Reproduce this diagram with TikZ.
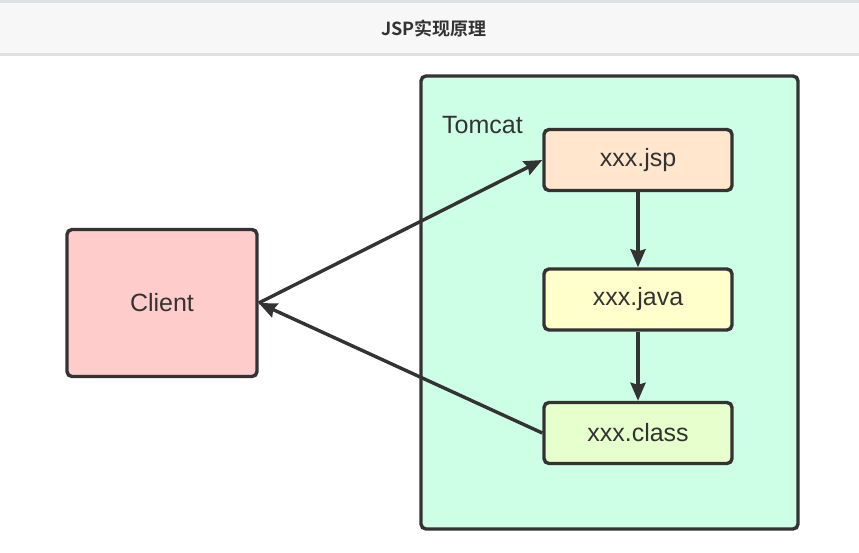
\documentclass[tikz,border=0pt]{standalone}
\usepackage{fontspec}
\setmainfont{Liberation Sans}
\newfontfamily\cjkbold[BoldFont={Noto Sans CJK SC Bold}]{Noto Sans CJK SC}
\usetikzlibrary{arrows.meta}
\definecolor{ink}{HTML}{333333}
\definecolor{bandgray}{HTML}{F7F7F7}
\definecolor{bandline}{HTML}{DFE2E5}
\definecolor{tomcatfill}{HTML}{CCFFE6}
\definecolor{jspfill}{HTML}{FFE6CC}
\definecolor{javafill}{HTML}{FFFFCC}
\definecolor{classfill}{HTML}{E6FFCC}
\definecolor{clientfill}{HTML}{FFCCCC}
\tikzset{
  box/.style={draw=ink, line width=3.4pt, rounded corners=5pt, inner sep=0pt},
  lbl/.style={text=ink, font=\fontsize{25}{30}\selectfont, inner sep=0pt},
  conn/.style={draw=ink, line width=3.4pt, -{Stealth[length=18pt,width=15pt,inset=2pt]}}
}
\begin{document}
\begin{tikzpicture}[x=1pt,y=-1pt]
\useasboundingbox (0,0) rectangle (859,552);
\fill[white] (0,0) rectangle (859,552);
% header band
\fill[bandline] (0,0) rectangle (859,56);
\fill[bandgray] (0,3) rectangle (859,53);
\node[text=ink, font=\cjkbold\bfseries\fontsize{18}{21}\selectfont, inner sep=0pt] (title) at (434,29) {JSP实现原理};
% Tomcat container
\node[box, fill=tomcatfill, minimum width=377pt, minimum height=453pt] (tomcat) at (609.5,302.5) {};
\node[lbl, anchor=west] (tomcatlbl) at (442,125) {Tomcat};
% inner boxes
\node[box, fill=jspfill, minimum width=188pt, minimum height=61pt, lbl] (jsp) at (638,160) {xxx.jsp};
\node[box, fill=javafill, minimum width=188pt, minimum height=61pt, lbl] (java) at (638,299.5) {xxx.java};
\node[box, fill=classfill, minimum width=188pt, minimum height=61pt, lbl] (class) at (638,433) {xxx.class};
% client
\node[box, fill=clientfill, minimum width=190pt, minimum height=147pt, lbl] (client) at (162,303) {Client};
% connectors
\draw[conn] (client.east) -- (jsp.west);
\draw[conn] (class.west) -- (client.east);
\draw[conn] (jsp.south) -- (java.north);
\draw[conn] (java.south) -- (class.north);
\end{tikzpicture}
\end{document}
